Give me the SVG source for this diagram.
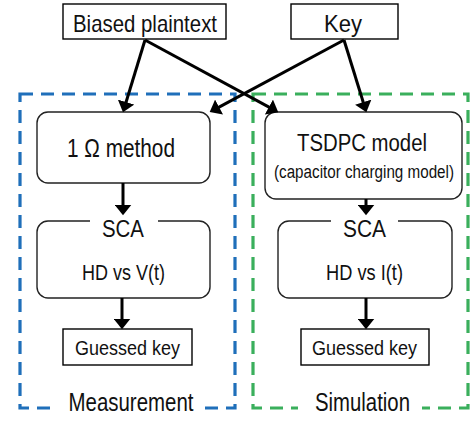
<svg xmlns="http://www.w3.org/2000/svg" width="471" height="422" viewBox="0 0 471 422">
  <defs>
    <marker id="arrow" viewBox="0 0 10 16" refX="5" refY="8" markerWidth="11" markerHeight="17" markerUnits="userSpaceOnUse" orient="auto">
      <path d="M0,0 L10,8 L0,16 Z" fill="#000"/>
    </marker>
    <style>
      .box { fill: #fff; stroke: #000; stroke-width: 1.4; }
      .rbox { fill: #fff; stroke: #222; stroke-width: 1.4; }
      .txt { font-family: "Liberation Sans", Arial, sans-serif; fill: #111; text-anchor: middle; }
      .conn { stroke: #000; stroke-width: 3; fill: none; marker-end: url(#arrow); }
      .group-blue { fill: none; stroke: #1F6FBA; stroke-width: 3.2; stroke-dasharray: 13 8; }
      .group-green { fill: none; stroke: #3AAF5C; stroke-width: 3.2; stroke-dasharray: 13 8; }
    </style>
  </defs>

  <rect width="471" height="422" fill="#fff"/>

  <!-- dashed region frames -->
  <g id="region-measurement">
    <rect class="group-blue" x="20" y="94" width="215" height="314"/>
    <rect x="57" y="396" width="148" height="20" fill="#fff"/>
    <text class="txt" x="131" y="411" font-size="25" textLength="125" lengthAdjust="spacingAndGlyphs">Measurement</text>
  </g>
  <g id="region-simulation">
    <rect class="group-green" x="253" y="94" width="215" height="314"/>
    <rect x="298" y="396" width="124" height="20" fill="#fff"/>
    <text class="txt" x="362.5" y="411" font-size="25" textLength="95" lengthAdjust="spacingAndGlyphs">Simulation</text>
  </g>

  <!-- inputs -->
  <g id="biased-plaintext">
    <rect class="box" x="63" y="4" width="163" height="35"/>
    <text class="txt" x="145" y="32" font-size="24" textLength="144" lengthAdjust="spacingAndGlyphs">Biased plaintext</text>
  </g>
  <g id="key">
    <rect class="box" x="291" y="4" width="107" height="35"/>
    <text class="txt" x="343" y="32" font-size="24" textLength="38" lengthAdjust="spacingAndGlyphs">Key</text>
  </g>

  <!-- measurement chain -->
  <g id="one-ohm-method">
    <rect class="rbox" x="37" y="112" width="173" height="71" rx="11"/>
    <text class="txt" x="121" y="157" font-size="25" textLength="108" lengthAdjust="spacingAndGlyphs">1 Ω method</text>
  </g>
  <g id="sca-measurement">
    <path class="rbox" d="M90,221 H48 A11,11 0 0 0 37,232 V287 A11,11 0 0 0 48,298 H199 A11,11 0 0 0 210,287 V232 A11,11 0 0 0 199,221 H158"/>
    <text class="txt" x="123" y="237" font-size="23" textLength="42" lengthAdjust="spacingAndGlyphs">SCA</text>
    <text class="txt" x="123.5" y="280" font-size="22" textLength="83" lengthAdjust="spacingAndGlyphs">HD vs V(t)</text>
  </g>
  <g id="guessed-key-measurement">
    <rect class="box" x="63" y="329" width="129" height="36"/>
    <text class="txt" x="127.5" y="355" font-size="20" textLength="105" lengthAdjust="spacingAndGlyphs">Guessed key</text>
  </g>

  <!-- simulation chain -->
  <g id="tsdpc-model">
    <rect class="rbox" x="265" y="112" width="197" height="87" rx="11"/>
    <text class="txt" x="362" y="151" font-size="23" textLength="130" lengthAdjust="spacingAndGlyphs">TSDPC model</text>
    <text class="txt" x="364" y="178" font-size="18" textLength="180" lengthAdjust="spacingAndGlyphs">(capacitor charging model)</text>
  </g>
  <g id="sca-simulation">
    <path class="rbox" d="M331,221 H289 A11,11 0 0 0 278,232 V287 A11,11 0 0 0 289,298 H441 A11,11 0 0 0 452,287 V232 A11,11 0 0 0 441,221 H398"/>
    <text class="txt" x="364.5" y="237" font-size="23" textLength="43" lengthAdjust="spacingAndGlyphs">SCA</text>
    <text class="txt" x="364.5" y="280" font-size="22" textLength="77" lengthAdjust="spacingAndGlyphs">HD vs I(t)</text>
  </g>
  <g id="guessed-key-simulation">
    <rect class="box" x="301" y="329" width="128" height="36"/>
    <text class="txt" x="364.5" y="355" font-size="20" textLength="105" lengthAdjust="spacingAndGlyphs">Guessed key</text>
  </g>

  <!-- connectors -->
  <g id="connectors">
    <line class="conn" x1="145" y1="40" x2="124.5" y2="107.2"/>
    <line class="conn" x1="145" y1="40" x2="273.6" y2="109.6"/>
    <line class="conn" x1="344" y1="40" x2="214.4" y2="109.6"/>
    <line class="conn" x1="344" y1="40" x2="364.8" y2="107.2"/>
    <line class="conn" x1="123" y1="183" x2="123" y2="210"/>
    <line class="conn" x1="366" y1="199" x2="366" y2="210"/>
    <line class="conn" x1="122" y1="298" x2="122" y2="324"/>
    <line class="conn" x1="366" y1="298" x2="366" y2="324"/>
  </g>
</svg>
